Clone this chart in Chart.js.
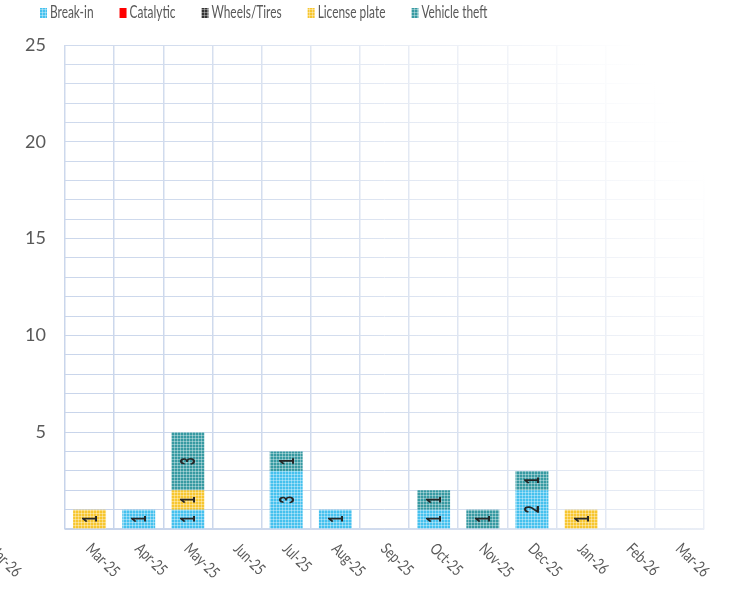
<!DOCTYPE html>
<html>
<head>
<meta charset="utf-8">
<script src="https://cdn.jsdelivr.net/npm/chart.js@4.4.1/dist/chart.umd.min.js"></script>
<style>
  html, body { margin: 0; padding: 0; background: #fff; }
  #wrap { width: 731px; height: 591px; }
</style>
</head>
<body>
<div id="wrap"><canvas id="myChart"></canvas></div>
<script>
var months = ["Mar-25","Apr-25","May-25","Jun-25","Jul-25","Aug-25","Sep-25","Oct-25","Nov-25","Dec-25","Jan-26","Feb-26","Mar-26"];
var breakIn      = [0,1,1,0,3,1,0,1,0,2,0,0,0];
var catalytic    = [0,0,0,0,0,0,0,0,0,0,0,0,0];
var wheelsTires  = [0,0,0,0,0,0,0,0,0,0,0,0,0];
var licensePlate = [1,0,1,0,0,0,0,0,0,0,1,0,0];
var vehicleTheft = [0,0,3,0,1,0,0,1,1,1,0,0,0];
var yTicks = [5,10,15,20,25];

var font = "Lato, 'Open Sans', sans-serif";

// small dotted texture like the office fill patterns
function makePattern(color) {
    var c = document.createElement("canvas");
    c.width = 3; c.height = 3;
    var g = c.getContext("2d");
    g.fillStyle = color;
    g.fillRect(0, 0, 3, 3);
    g.fillStyle = "rgba(255,255,255,0.35)";
    g.fillRect(0, 0, 3, 1);
    g.fillRect(0, 0, 1, 3);
    return g.createPattern(c, "repeat");
}

// grid fades out towards the top right, as in the original
var gridGrad = null;
function gridColor(c) {
    var a = c.chart.chartArea;
    if (!a) return "#dbe3ef";
    if (!gridGrad) {
        gridGrad = c.chart.ctx.createLinearGradient(a.left, a.bottom, a.right, a.top + 120);
        gridGrad.addColorStop(0, "#c6d3ea");
        gridGrad.addColorStop(0.45, "#d3ddee");
        gridGrad.addColorStop(0.8, "#eef1f7");
        gridGrad.addColorStop(1, "#ffffff");
    }
    return gridGrad;
}

// legend drawn by hand so spacing follows the picture
// (text squeezed sideways, the original font is a narrow one)
var legendPlugin = {
    id: "topLegend",
    afterDraw: function(chart) {
        var ctx = chart.ctx;
        var sx = 0.7;
        var x = 40, y = 13;
        ctx.save();
        ctx.font = "17px " + font;
        ctx.textBaseline = "middle";
        chart.data.datasets.forEach(function(ds) {
            ctx.fillStyle = ds.backgroundColor;
            ctx.fillRect(x, y - 5, 7, 10);
            x += 10;
            ctx.save();
            ctx.translate(x, y);
            ctx.scale(sx, 1);
            ctx.fillStyle = "#595959";
            ctx.fillText(ds.label, 0, 0);
            ctx.restore();
            x += ctx.measureText(ds.label).width * sx + 26;
        });
        ctx.restore();
    }
};

// value labels, turned on their side inside each segment
var valuePlugin = {
    id: "values",
    afterDatasetsDraw: function(chart) {
        var ctx = chart.ctx;
        ctx.save();
        ctx.font = "bold 20px " + font;
        ctx.fillStyle = "#262626";
        ctx.textAlign = "center";
        ctx.textBaseline = "middle";
        chart.data.datasets.forEach(function(ds, i) {
            chart.getDatasetMeta(i).data.forEach(function(bar, j) {
                var v = ds.data[j];
                if (!v) return;
                ctx.save();
                ctx.translate(bar.x + 1, (bar.y + bar.base) / 2);
                ctx.rotate(-Math.PI / 2);
                ctx.scale(0.68, 1);
                ctx.fillText(v, 0, 0);
                ctx.restore();
            });
        });
        ctx.restore();
    }
};

// month labels slanting down to the right
var monthPlugin = {
    id: "months",
    afterDraw: function(chart) {
        var ctx = chart.ctx;
        var xs = chart.scales.x;
        var base = chart.chartArea.bottom + 17;
        ctx.save();
        ctx.font = "16px " + font;
        ctx.fillStyle = "#595959";
        ctx.textAlign = "left";
        ctx.textBaseline = "middle";
        function put(text, pos) {
            ctx.save();
            ctx.translate(xs.getPixelForValue(pos) - 1, base);
            ctx.rotate(Math.PI / 4);
            ctx.scale(0.76, 1);
            ctx.fillText(text, 0, 0);
            ctx.restore();
        }
        months.forEach(function(m, i) { put(m, i); });
        // the original also shows a stray copy of the last label off to the left
        put(months[months.length - 1], -2);
        ctx.restore();
    }
};

new Chart(document.getElementById("myChart"), {
    type: "bar",
    data: {
        labels: months,
        datasets: [
            { label: "Break-in", data: breakIn, backgroundColor: makePattern("#45c1ee") },
            { label: "Catalytic", data: catalytic, backgroundColor: "#ff0000" },
            { label: "Wheels/Tires", data: wheelsTires, backgroundColor: makePattern("#333333") },
            { label: "License plate", data: licensePlate, backgroundColor: makePattern("#f7c62f") },
            { label: "Vehicle theft", data: vehicleTheft, backgroundColor: makePattern("#379aa2") }
        ]
    },
    options: {
        responsive: true,
        maintainAspectRatio: false,
        animation: false,
        layout: { padding: { top: 45, left: 14, right: 27, bottom: 62 } },
        datasets: { bar: { categoryPercentage: 1, barPercentage: 0.67, borderWidth: 0 } },
        plugins: {
            legend: { display: false },
            tooltip: { enabled: false }
        },
        scales: {
            x: {
                stacked: true,
                grid: { color: gridColor, lineWidth: 1.5, drawTicks: false, offset: true },
                border: { color: gridColor, width: 1.5 },
                ticks: { display: false }
            },
            y: {
                stacked: true,
                min: 0,
                max: 25,
                grid: { color: gridColor, drawTicks: false },
                border: { display: false },
                afterFit: function(s) { s.width = 51; },
                ticks: {
                    stepSize: 1,
                    autoSkip: false,
                    padding: 19,
                    color: "#595959",
                    font: { family: font, size: 18 },
                    callback: function(v) { return yTicks.indexOf(v) >= 0 ? v : ""; }
                }
            }
        }
    },
    plugins: [legendPlugin, valuePlugin, monthPlugin]
});
</script>
</body>
</html>
